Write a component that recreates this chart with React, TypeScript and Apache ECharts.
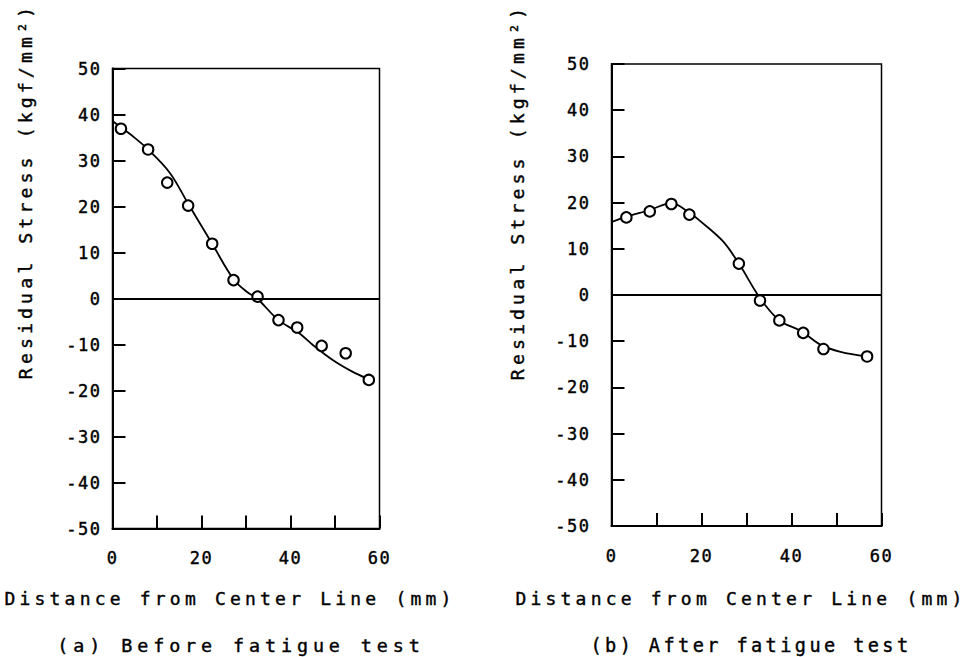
import React, { useEffect, useRef } from "react";
import * as echarts from "echarts";

// ---- Data ----
// (a) Before fatigue test: measured points
const XA = [1.9, 8.0, 12.3, 17.0, 22.4, 27.2, 32.6, 37.3, 41.5, 47.0, 52.4, 57.6];
const YA = [36.9, 32.4, 25.2, 20.2, 11.9, 4.0, 0.4, -4.7, -6.3, -10.3, -11.9, -17.7];
// (a) fitted curve
const CURVE_AX = [0, 1.9, 4, 8, 12.9, 17, 22.4, 27.2, 30.4, 32.5, 37.3, 41.9, 44.9, 49.4, 53.9, 57.2];
const CURVE_AY = [38.6, 37.2, 35.7, 32.4, 27.3, 20.6, 11.9, 4.2, 1.3, 0, -4.7, -7.5, -10.0, -13.3, -15.9, -17.4];

// (b) After fatigue test: measured points
const XB = [3.3, 8.5, 13.3, 17.3, 28.3, 33.0, 37.3, 42.6, 47.1, 56.8];
const YB = [16.8, 18.1, 19.7, 17.4, 6.8, -1.2, -5.5, -8.2, -11.7, -13.3];
// (b) fitted curve
const CURVE_BX = [0, 3.3, 8.5, 13.3, 17.3, 19.6, 24.7, 28.3, 32.0, 33.5, 37.3, 42.1, 46.5, 50.9, 56.8];
const CURVE_BY = [15.8, 16.9, 18.4, 19.9, 17.8, 16.1, 11.7, 6.8, 0.8, -1.4, -5.5, -7.8, -10.8, -12.3, -13.3];

// Axes
const X_MIN = 0;
const X_MAX = 60;
const X_STEP = 10;
const X_LABEL_STEP = 20;
const Y_MIN = -50;
const Y_MAX = 50;
const Y_STEP = 10;

// Texts
const Y_NAME = "Residual Stress (kgf/mm\u00B2)";
const X_NAME = "Distance from Center Line (mm)";
const CAPTION_A = "(a) Before fatigue test";
const CAPTION_B = "(b) After fatigue test";

const FONT = "'DejaVu Sans Mono', 'Liberation Mono', monospace";
const INK = "#000";

const css = `
#chartbox text { letter-spacing: 1.5px; }
#chartbox text[style*="18px"] { letter-spacing: 4.2px; }
#chartbox text[style*="18.2px"] { letter-spacing: 4.1px; }
#chartbox text[style*="18.4px"] { letter-spacing: 4.9px; }
#chartbox text[style*="18.6px"] { letter-spacing: 3.4px; }
`;

function pairs(xs: number[], ys: number[]) {
  return xs.map((x, i) => [x, ys[i]]);
}

function xAxisFor(gridIndex: number) {
  return {
    type: "value",
    gridIndex,
    min: X_MIN,
    max: X_MAX,
    interval: X_STEP,
    axisLine: { show: true, onZero: false, lineStyle: { color: "#000", width: 2 } },
    axisTick: { show: true, inside: true, length: 13, lineStyle: { color: "#000", width: 2 } },
    axisLabel: {
      show: true,
      margin: 21,
      fontSize: 17,
      fontFamily: FONT,
      color: INK,
      textBorderColor: INK,
      textBorderWidth: 0.4,
      showMinLabel: true,
      showMaxLabel: true,
      formatter: (v: number) => (v % X_LABEL_STEP === 0 ? String(v) : ""),
    },
    splitLine: { show: false },
  };
}

function yAxisFor(gridIndex: number, margin: number) {
  return {
    type: "value",
    gridIndex,
    min: Y_MIN,
    max: Y_MAX,
    interval: Y_STEP,
    axisLine: { show: true, onZero: false, lineStyle: { color: "#000", width: 2 } },
    axisTick: { show: true, inside: true, length: 13, lineStyle: { color: "#000", width: 2 } },
    axisLabel: {
      show: true,
      margin,
      fontSize: 17,
      fontFamily: FONT,
      color: INK,
      textBorderColor: INK,
      textBorderWidth: 0.4,
      showMinLabel: true,
      showMaxLabel: true,
      formatter: (v: number) => String(v),
    },
    splitLine: { show: false },
  };
}

function curveSeries(idx: number, xs: number[], ys: number[]) {
  return {
    type: "line",
    xAxisIndex: idx,
    yAxisIndex: idx,
    data: pairs(xs, ys),
    smooth: 0.35,
    showSymbol: false,
    symbol: "none",
    lineStyle: { color: "#000", width: 1.8 },
    z: 2,
    markLine: {
      silent: true,
      symbol: "none",
      label: { show: false },
      lineStyle: { color: "#000", width: 1.8, type: "solid" },
      data: [{ yAxis: 0 }],
    },
  };
}

function pointSeries(idx: number, xs: number[], ys: number[]) {
  return {
    type: "scatter",
    xAxisIndex: idx,
    yAxisIndex: idx,
    data: pairs(xs, ys),
    symbol: "circle",
    symbolSize: 10.5,
    itemStyle: { color: "#fff", borderColor: "#000", borderWidth: 2, opacity: 1 },
    z: 4,
  };
}

function textEl(text: string, x: number, y: number, size: number, rotate = 0) {
  return {
    type: "text",
    x,
    y,
    rotation: rotate,
    silent: true,
    style: {
      text,
      fontSize: size,
      fontFamily: FONT,
      fill: INK,
      stroke: INK,
      lineWidth: 0.4,
      align: "center",
      verticalAlign: "middle",
      textAlign: "center",
      textVerticalAlign: "middle",
    },
  };
}

export default function App() {
  const ref = useRef<HTMLDivElement>(null);

  useEffect(() => {
    document.body.style.margin = "0";
    if (!ref.current) return;
    const chart = echarts.init(ref.current, undefined, { renderer: "svg" });
    chart.setOption({
      animation: false,
      backgroundColor: "#fff",
      grid: [
        { left: 112.5, top: 68.5, width: 267, height: 460, show: true, borderColor: "#000", borderWidth: 1.5, backgroundColor: "transparent", containLabel: false },
        { left: 611.5, top: 64, width: 270, height: 462, show: true, borderColor: "#000", borderWidth: 1.5, backgroundColor: "transparent", containLabel: false },
      ],
      xAxis: [xAxisFor(0), xAxisFor(1)],
      yAxis: [yAxisFor(0, 11), yAxisFor(1, 21)],
      series: [
        curveSeries(0, CURVE_AX, CURVE_AY),
        pointSeries(0, XA, YA),
        curveSeries(1, CURVE_BX, CURVE_BY),
        pointSeries(1, XB, YB),
      ],
      graphic: [
        textEl(Y_NAME, 25, 191, 18.2, Math.PI / 2),
        textEl(Y_NAME, 517, 192, 18.2, Math.PI / 2),
        textEl(X_NAME, 230, 598, 18),
        textEl(X_NAME, 741, 598, 18),
        textEl(CAPTION_A, 241, 645, 18.4),
        textEl(CAPTION_B, 751, 645, 18.6),
      ],
    });
    return () => chart.dispose();
  }, []);

  return (
    <>
      <style>{css}</style>
      <div id="chartbox" ref={ref} style={{ width: 978, height: 657 }} />
    </>
  );
}
